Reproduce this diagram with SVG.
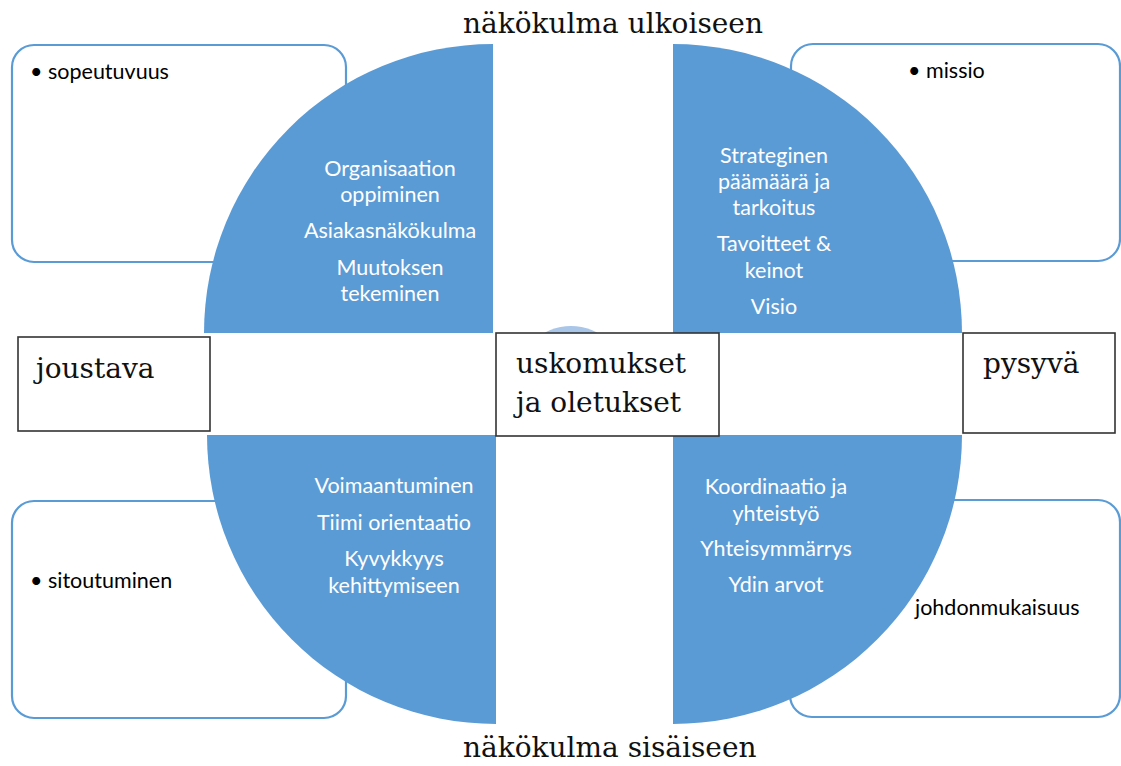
<svg xmlns="http://www.w3.org/2000/svg" width="1121" height="766" viewBox="0 0 1121 766">
<style>
.box{fill:#ffffff;stroke:#5b9bd5;stroke-width:2.2}
.quad{fill:#5b9bd5}
.lbl{fill:#ffffff;stroke:#333333;stroke-width:1.6}
.serif{font-family:"DejaVu Serif","Liberation Serif",serif;font-size:28px;fill:#111111}
.wt{font-family:Lato,"Open Sans",sans-serif;font-size:21.5px;fill:#ffffff;text-anchor:middle}
.bt{font-family:Lato,"Open Sans",sans-serif;font-size:21.5px;fill:#000000}
</style>
<rect width="1121" height="766" fill="#ffffff"/>
<g id="box-tl"><rect class="box" x="12" y="45" width="334" height="217" rx="22"/><text class="bt" x="30" y="79">• sopeutuvuus</text></g>
<g id="box-tr"><rect class="box" x="791" y="44" width="329" height="217" rx="22"/><text class="bt" x="908" y="78">• missio</text></g>
<g id="box-bl"><rect class="box" x="12" y="501" width="334" height="217" rx="22"/><text class="bt" x="30" y="588">• sitoutuminen</text></g>
<g id="box-br"><rect class="box" x="790" y="500" width="330" height="217" rx="22"/><text class="bt" x="915" y="615">johdonmukaisuus</text></g>
<g id="quad-tl"><path class="quad" d="M493,333 L204,333 A289,289 0 0 1 493,44 Z"/>
<text class="wt"><tspan x="390" y="176">Organisaation</tspan><tspan x="390" y="202">oppiminen</tspan><tspan x="390" y="238">Asiakasnäkökulma</tspan><tspan x="390" y="275">Muutoksen</tspan><tspan x="390" y="301">tekeminen</tspan></text></g>
<g id="quad-tr"><path class="quad" d="M673,333 L673,44 A289,289 0 0 1 962,333 Z"/>
<text class="wt"><tspan x="774" y="163">Strateginen</tspan><tspan x="774" y="189">päämäärä ja</tspan><tspan x="774" y="215">tarkoitus</tspan><tspan x="774" y="251">Tavoitteet &amp;</tspan><tspan x="774" y="278">keinot</tspan><tspan x="774" y="314">Visio</tspan></text></g>
<g id="quad-bl"><path class="quad" d="M496,435 L496,724 A289,289 0 0 1 207,435 Z"/>
<text class="wt"><tspan x="394" y="493">Voimaantuminen</tspan><tspan x="394" y="530">Tiimi orientaatio</tspan><tspan x="394" y="566">Kyvykkyys</tspan><tspan x="394" y="593">kehittymiseen</tspan></text></g>
<g id="quad-br"><path class="quad" d="M673,435 L962,435 A289,289 0 0 1 673,724 Z"/>
<text class="wt"><tspan x="776" y="494">Koordinaatio ja</tspan><tspan x="776" y="521">yhteistyö</tspan><tspan x="776" y="556">Yhteisymmärrys</tspan><tspan x="776" y="592">Ydin arvot</tspan></text></g>
<g id="center-circle"><circle cx="571" cy="380" r="54" fill="#a9c5e8"/></g>
<g id="center"><rect class="lbl" x="496" y="333" width="223" height="103"/><text class="serif"><tspan x="516" y="373">uskomukset</tspan><tspan x="516" y="412">ja oletukset</tspan></text></g>
<g id="joustava"><rect class="lbl" x="18" y="337" width="192" height="94"/><text class="serif" x="36" y="378">joustava</text></g>
<g id="pysyva"><rect class="lbl" x="963" y="333" width="152" height="100"/><text class="serif" x="983" y="373">pysyvä</text></g>
<g id="top-label"><text class="serif" x="463" y="33">näkökulma ulkoiseen</text></g>
<g id="bottom-label"><text class="serif" x="463" y="757">näkökulma sisäiseen</text></g>
<g id="connectors"></g>
</svg>
